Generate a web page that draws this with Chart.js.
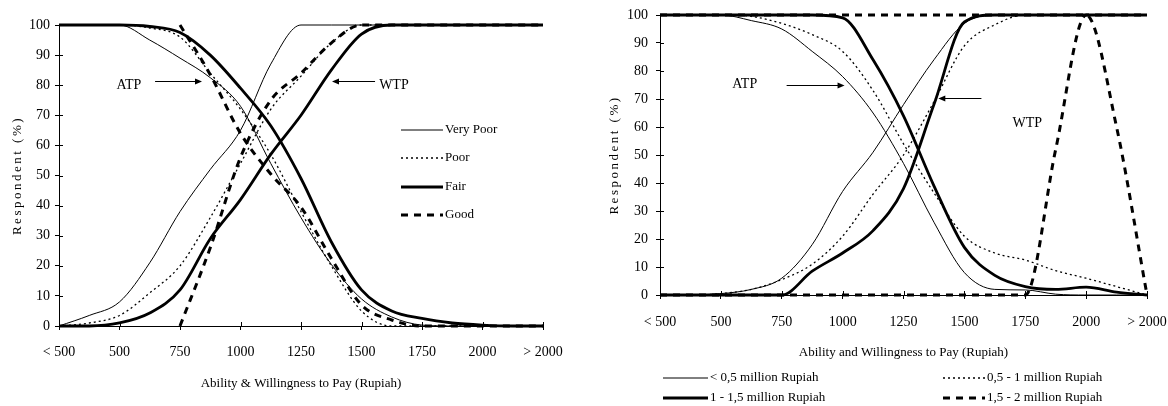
<!DOCTYPE html>
<html>
<head>
<meta charset="utf-8">
<script src="https://cdn.jsdelivr.net/npm/chart.js@4.4.1/dist/chart.umd.min.js"></script>
<style>
  html, body { margin: 0; padding: 0; background: #fff; }
  #wrap { position: relative; width: 1168px; height: 406px; }
  .box { position: absolute; top: 0; width: 584px; height: 406px; }
</style>
</head>
<body>
<div id="wrap">
  <div class="box" style="left:0"><canvas id="left" width="584" height="406"></canvas></div>
  <div class="box" style="left:584px"><canvas id="right" width="584" height="406"></canvas></div>
</div>
<script>
"use strict";
// x positions: 250 stands for "< 500", 2250 for "> 2000"
var xValues = [250, 375, 500, 625, 750, 875, 1000, 1125, 1250, 1375, 1500, 1625, 1750, 1875, 2000, 2125, 2250];
var xTickLabels = ["< 500", "500", "750", "1000", "1250", "1500", "1750", "2000", "> 2000"];

// left chart: by group
var atpVeryPoor = [100, 100, 100, 95, 89, 82.5, 73, 54, 36, 20.5, 9, 3, 0.3, 0, 0, 0, 0];
var atpPoor = [100, 100, 100, 99, 96, 84, 72, 57, 38, 20, 5, 0, 0, 0, 0, 0, 0];
var atpFair = [100, 100, 100, 99.5, 97.5, 90, 79, 66.5, 49, 28, 12, 5, 2.5, 1, 0.3, 0, 0];
var atpGood = [null, null, null, null, 100, 83.5, 64, 50.5, 39.5, 22.5, 7, 2, 0, 0, 0, 0, 0];
var wtpVeryPoor = [0, 3.5, 8, 21, 38, 52, 65, 87, 100, 100, 100, 100, 100, 100, 100, 100, 100];
var wtpPoor = [0, 1, 3.5, 11, 20, 36, 54, 72, 83, 94, 100, 100, 100, 100, 100, 100, 100];
var wtpFair = [0, 0, 1, 4.3, 12, 29, 42, 57, 70, 85, 97, 100, 100, 100, 100, 100, 100];
var wtpGood = [null, null, null, null, 0, 26, 56, 75, 84, 94, 100, 100, 100, 100, 100, 100, 100];

// right chart: by income
var atpIncome1 = [100, 100, 100, 98, 95, 87, 78, 65, 47, 26, 8, 2, 1.8, 0.3, 0, 0, 0];
var atpIncome2 = [100, 100, 100, 99.5, 97, 93, 87, 73, 54, 36.5, 21, 15, 12.5, 8.7, 6, 3, 0];
var atpIncome3 = [100, 100, 100, 100, 100, 100, 99, 84, 64, 39, 17, 7, 3, 2, 2.8, 1, 0];
var atpIncome4 = [100, 100, 100, 100, 100, 100, 100, 100, 100, 100, 100, 100, 100, 100, 100, 60, 0];
var wtpIncome1 = [0, 0, 0.5, 2, 6, 18, 37, 51, 68, 84, 97, 100, 100, 100, 100, 100, 100];
var wtpIncome2 = [0, 0, 0.5, 2, 5.5, 11, 21, 36, 50, 69, 89, 96.5, 100, 100, 100, 100, 100];
var wtpIncome3 = [0, 0, 0, 0, 0, 8.5, 15, 23, 38, 68, 97.5, 100, 100, 100, 100, 100, 100];
var wtpIncome4 = [0, 0, 0, 0, 0, 0, 0, 0, 0, 0, 0, 0, 0, 52, 100, 100, 100];

var groupLabels = ["Very Poor", "Poor", "Fair", "Good"];
var incomeLabels = ["< 0,5 million Rupiah", "0,5 - 1 million Rupiah", "1 - 1,5 million Rupiah", "1,5 - 2 million Rupiah"];

var FONT = "'Liberation Serif', 'Times New Roman', serif";
var styles = [
  { width: 1, dash: [] },
  { width: 1.3, dash: [2, 3] },
  { width: 2.8, dash: [] },
  { width: 3, dash: [7, 6] }
];

function series(label, values, style) {
  return {
    label: label,
    data: values.map(function (v, i) { return { x: xValues[i], y: v }; }),
    borderColor: "#000",
    borderWidth: style.width,
    borderDash: style.dash,
    pointRadius: 0,
    fill: false,
    clip: false,
    cubicInterpolationMode: "monotone"
  };
}

var paperPlugin = {
  id: "paper",
  afterDraw: function (chart, args, opts) {
    var ctx = chart.ctx, xs = chart.scales.x, ys = chart.scales.y, area = chart.chartArea;
    ctx.save();
    ctx.strokeStyle = "#000";
    ctx.fillStyle = "#000";
    ctx.lineWidth = 1;
    // tick marks reaching into the plot
    ctx.beginPath();
    xs.ticks.forEach(function (t) {
      var px = Math.round(xs.getPixelForValue(t.value)) + 0.5;
      ctx.moveTo(px, area.bottom);
      ctx.lineTo(px, area.bottom - 4);
    });
    ys.ticks.forEach(function (t) {
      var py = Math.round(ys.getPixelForValue(t.value)) + 0.5;
      ctx.moveTo(area.left, py);
      ctx.lineTo(area.left + 4, py);
    });
    ctx.stroke();

    // y title, letter spaced
    ctx.save();
    ctx.translate(opts.yTitleX, (area.top + area.bottom) / 2);
    ctx.rotate(-Math.PI / 2);
    ctx.font = "13px " + FONT;
    ctx.letterSpacing = "2.5px";
    ctx.textAlign = "center";
    ctx.textBaseline = "middle";
    ctx.fillText(opts.yTitle, 0, 0);
    ctx.restore();

    // ATP / WTP notes and arrows
    ctx.font = "14px " + FONT;
    ctx.textAlign = "center";
    ctx.textBaseline = "middle";
    opts.notes.forEach(function (n) {
      ctx.fillText(n.text, xs.getPixelForValue(n.x), ys.getPixelForValue(n.y));
    });
    opts.arrows.forEach(function (a) {
      var x1 = xs.getPixelForValue(a.from), x2 = xs.getPixelForValue(a.to);
      var y = Math.round(ys.getPixelForValue(a.y)) + 0.5;
      var dir = x2 > x1 ? 1 : -1;
      ctx.beginPath();
      ctx.moveTo(x1, y);
      ctx.lineTo(x2 - dir * 5, y);
      ctx.stroke();
      ctx.beginPath();
      ctx.moveTo(x2, y);
      ctx.lineTo(x2 - dir * 7, y - 3);
      ctx.lineTo(x2 - dir * 7, y + 3);
      ctx.closePath();
      ctx.fill();
    });

    // legend
    ctx.font = "13px " + FONT;
    ctx.textAlign = "left";
    opts.legend.forEach(function (item) {
      var ds = chart.data.datasets[item.index];
      ctx.save();
      ctx.lineWidth = ds.borderWidth;
      ctx.setLineDash(ds.borderDash);
      ctx.beginPath();
      ctx.moveTo(item.x, item.y);
      ctx.lineTo(item.x + item.len, item.y);
      ctx.stroke();
      ctx.restore();
      ctx.fillText(ds.label, item.x + item.len + 2, item.y);
    });
    ctx.restore();
  }
};

function makeOptions(cfg) {
  return {
    responsive: false,
    animation: false,
    layout: { padding: cfg.padding },
    plugins: {
      legend: { display: false },
      tooltip: { enabled: false },
      paper: cfg.paper
    },
    scales: {
      x: {
        type: "linear",
        min: 250,
        max: 2250,
        afterFit: function (scale) {
          scale.height = cfg.xHeight;
          scale.paddingLeft = 0;
          scale.paddingRight = 0;
        },
        border: { display: true, color: "#000", width: 1 },
        grid: { display: true, drawOnChartArea: false, drawTicks: true, tickLength: 4, color: "#000" },
        ticks: {
          stepSize: 250,
          padding: cfg.xTickPad,
          color: "#000",
          font: { family: FONT, size: 14 },
          maxRotation: 0,
          callback: function (v) { return xTickLabels[Math.round((v - 250) / 250)]; }
        },
        title: {
          display: true,
          text: cfg.xTitle,
          color: "#000",
          font: { family: FONT, size: 13 },
          padding: { top: 0, bottom: cfg.xTitlePad }
        }
      },
      y: {
        min: 0,
        max: 100,
        afterFit: function (scale) {
          scale.width = cfg.yWidth;
          scale.paddingTop = 0;
          scale.paddingBottom = 0;
        },
        border: { display: true, color: "#000", width: 1 },
        grid: { display: true, drawOnChartArea: false, drawTicks: true, tickLength: 4, color: "#000" },
        ticks: {
          stepSize: 10,
          padding: cfg.yTickPad,
          color: "#000",
          font: { family: FONT, size: 14 }
        }
      }
    }
  };
}

var leftSets = [
  series(groupLabels[0], atpVeryPoor, styles[0]),
  series(groupLabels[1], atpPoor, styles[1]),
  series(groupLabels[2], atpFair, styles[2]),
  series(groupLabels[3], atpGood, styles[3]),
  series(groupLabels[0] + " WTP", wtpVeryPoor, styles[0]),
  series(groupLabels[1] + " WTP", wtpPoor, styles[1]),
  series(groupLabels[2] + " WTP", wtpFair, styles[2]),
  series(groupLabels[3] + " WTP", wtpGood, styles[3])
];

new Chart(document.getElementById("left"), {
  type: "line",
  data: { datasets: leftSets },
  options: makeOptions({
    padding: { top: 25, right: 41, left: 0, bottom: 0 },
    xHeight: 80,
    yWidth: 59,
    yTickPad: 5,
    xTickPad: 14,
    xTitle: "Ability & Willingness to Pay (Rupiah)",
    xTitlePad: 15,
    paper: {
      yTitle: "Respondent (%)",
      yTitleX: 18,
      notes: [{ text: "ATP", x: 539, y: 80 }, { text: "WTP", x: 1634, y: 80 }],
      arrows: [{ from: 647, to: 841, y: 81.4 }, { from: 1556, to: 1378, y: 81.4 }],
      legend: [
        { index: 0, x: 401, y: 130, len: 42 },
        { index: 1, x: 401, y: 158, len: 42 },
        { index: 2, x: 401, y: 187, len: 42 },
        { index: 3, x: 401, y: 215, len: 42 }
      ]
    }
  }),
  plugins: [paperPlugin]
});

var rightSets = [
  series(incomeLabels[0], atpIncome1, styles[0]),
  series(incomeLabels[1], atpIncome2, styles[1]),
  series(incomeLabels[2], atpIncome3, styles[2]),
  series(incomeLabels[3], atpIncome4, styles[3]),
  series(incomeLabels[0] + " WTP", wtpIncome1, styles[0]),
  series(incomeLabels[1] + " WTP", wtpIncome2, styles[1]),
  series(incomeLabels[2] + " WTP", wtpIncome3, styles[2]),
  series(incomeLabels[3] + " WTP", wtpIncome4, styles[3])
];

new Chart(document.getElementById("right"), {
  type: "line",
  data: { datasets: rightSets },
  options: makeOptions({
    padding: { top: 15, right: 21, left: 0, bottom: 0 },
    xHeight: 111,
    yWidth: 76,
    yTickPad: 8,
    xTickPad: 15,
    xTitle: "Ability and Willingness to Pay (Rupiah)",
    xTitlePad: 46,
    paper: {
      yTitle: "Respondent (%)",
      yTitleX: 31,
      notes: [{ text: "ATP", x: 598, y: 75.4 }, { text: "WTP", x: 1758, y: 61.4 }],
      arrows: [{ from: 770, to: 1008, y: 75 }, { from: 1570, to: 1393, y: 70.4 }],
      legend: [
        { index: 0, x: 79, y: 378, len: 45 },
        { index: 1, x: 359, y: 378, len: 42 },
        { index: 2, x: 79, y: 398, len: 45 },
        { index: 3, x: 359, y: 398, len: 42 }
      ]
    }
  }),
  plugins: [paperPlugin]
});
</script>
</body>
</html>
